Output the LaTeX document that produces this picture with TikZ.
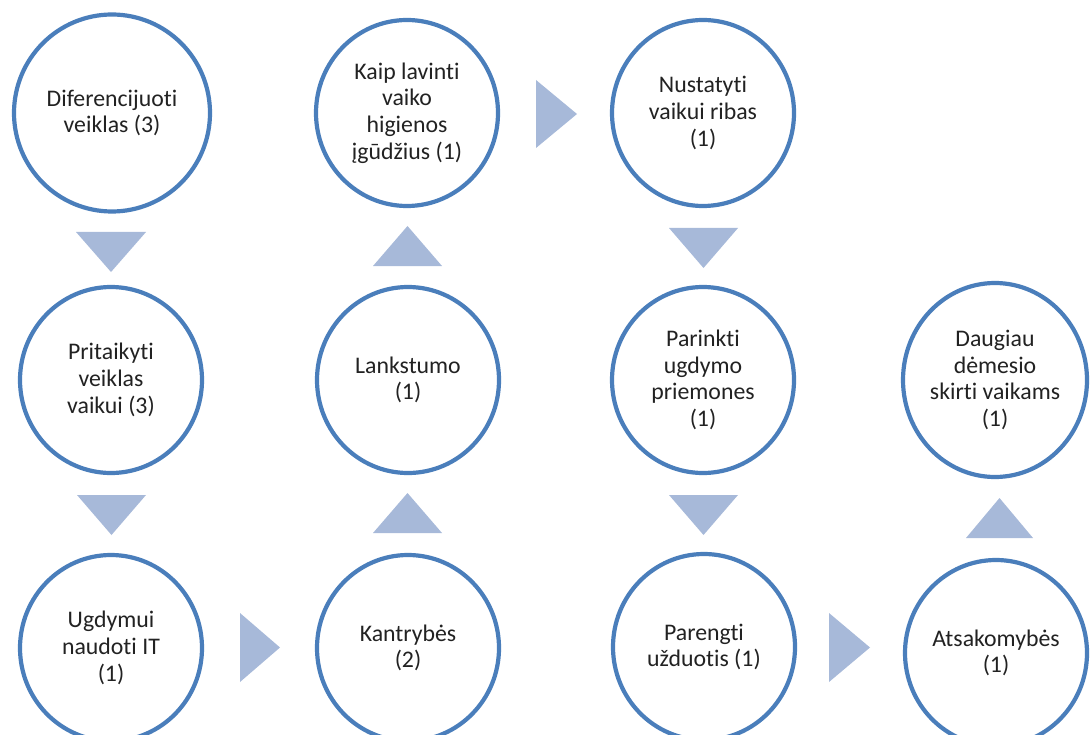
\documentclass[tikz,border=0pt]{standalone}
\usepackage{fontspec}
\setmainfont{Carlito}[Ligatures={NoCommon}]
\usetikzlibrary{shapes.geometric}
\definecolor{ringblue}{HTML}{4A7EBB}
\definecolor{arrowblue}{HTML}{A7B9D9}
\definecolor{txt}{HTML}{222222}
\tikzset{
  circ/.style={ellipse, draw=ringblue, line width=4.2pt, fill=white, inner sep=0pt,
    align=center, text=txt, font=\fontsize{23.8}{26.7}\selectfont,
    minimum width=182pt, minimum height=186pt},
  tri/.style={fill=arrowblue, draw=none}
}
\begin{document}
\begin{tikzpicture}[x=1pt,y=-1pt]
\useasboundingbox (0,0) rectangle (1091,735);
\begin{scope}
\clip (0,0) rectangle (1091,735);
% circles
\node[circ, minimum width=196pt, minimum height=197pt] (c1) at (112,113) {Diferencijuoti\\veiklas (3)};
\node[circ] (c2) at (407,113) {Kaip lavinti\\vaiko\\higienos\\įgūdžius (1)};
\node[circ] (c3) at (703,113) {Nustatyti\\vaikui ribas\\(1)};
\node[circ] (c4) at (111,380) {Pritaikyti\\veiklas\\vaikui (3)};
\node[circ] (c5) at (408,380) {Lankstumo\\(1)};
\node[circ] (c6) at (703,380) {Parinkti\\ugdymo\\priemones\\(1)};
\node[circ, minimum height=194pt] (c7) at (995,380) {Daugiau\\dėmesio\\skirti vaikams\\(1)};
\node[circ] (c8) at (111,648) {Ugdymui\\naudoti IT\\(1)};
\node[circ] (c9) at (408,648) {Kantrybės\\(2)};
\node[circ] (c10) at (704,647) {Parengti\\užduotis (1)};
\node[circ] (c11) at (996,653) {Atsakomybės\\(1)};
% triangles
\fill[tri] (76,232) -- (146,232) -- (111,272) -- cycle;
\fill[tri] (77,495) -- (146,495) -- (111.5,535) -- cycle;
\fill[tri] (240,613) -- (240,682) -- (280,647.5) -- cycle;
\fill[tri] (373,533) -- (442,533) -- (407.5,493) -- cycle;
\fill[tri] (373,266) -- (442,266) -- (407.5,226) -- cycle;
\fill[tri] (536,80) -- (536,148) -- (577,114) -- cycle;
\fill[tri] (669,228) -- (738,228) -- (703.5,268) -- cycle;
\fill[tri] (669,495) -- (738,495) -- (703.5,535) -- cycle;
\fill[tri] (829,613) -- (829,682) -- (870,647.5) -- cycle;
\fill[tri] (966,538) -- (1033,538) -- (999.5,498) -- cycle;
\end{scope}
\end{tikzpicture}
\end{document}
